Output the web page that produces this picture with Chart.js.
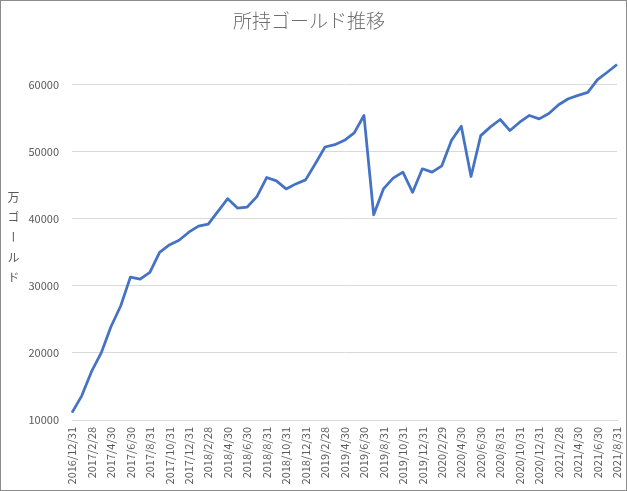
<!DOCTYPE html>
<html>
<head>
<meta charset="utf-8">
<script src="https://cdn.jsdelivr.net/npm/chart.js@4/dist/chart.umd.min.js"></script>
<style>
  html, body { margin: 0; padding: 0; background: #fff; }
  #wrap {
    position: relative;
    width: 627px; height: 491px;
    box-sizing: border-box;
    border: 1px solid #8c8c8c;
  }
  #chartGold { display: block; }
  #yTitle {
    position: absolute; left: 4px; top: 190px;
    writing-mode: vertical-rl;
    font: 12px "Noto Sans CJK JP", sans-serif;
    letter-spacing: 8px;
    color: #595959;
  }
</style>
</head>
<body>
<div id="wrap">
  <canvas id="chartGold" width="625" height="489"></canvas>
  <div id="yTitle">万ゴールド</div>
</div>
<script>
// month-end dates (every other one is labelled)
const dates = [
  "2016/12/31",
  "2017/1/31", "2017/2/28", "2017/3/31", "2017/4/30", "2017/5/31", "2017/6/30",
  "2017/7/31", "2017/8/31", "2017/9/30", "2017/10/31", "2017/11/30", "2017/12/31",
  "2018/1/31", "2018/2/28", "2018/3/31", "2018/4/30", "2018/5/31", "2018/6/30",
  "2018/7/31", "2018/8/31", "2018/9/30", "2018/10/31", "2018/11/30", "2018/12/31",
  "2019/1/31", "2019/2/28", "2019/3/31", "2019/4/30", "2019/5/31", "2019/6/30",
  "2019/7/31", "2019/8/31", "2019/9/30", "2019/10/31", "2019/11/30", "2019/12/31",
  "2020/1/31", "2020/2/29", "2020/3/31", "2020/4/30", "2020/5/31", "2020/6/30",
  "2020/7/31", "2020/8/31", "2020/9/30", "2020/10/31", "2020/11/30", "2020/12/31",
  "2021/1/31", "2021/2/28", "2021/3/31", "2021/4/30", "2021/5/31", "2021/6/30",
  "2021/7/31", "2021/8/31",
];

// gold held
const gold = [
  11100, 13600, 17200, 20000, 23900, 27000, 31300, 31000, 32000, 35000,
  36100, 36800, 38000, 38900, 39200, 41100, 43000, 41600, 41750, 43300,
  46150, 45650, 44450, 45200, 45800, 48200, 50700, 51050, 51700, 52800,
  55400, 40600, 44450, 46050, 46950, 43950, 47450, 46950, 47900, 51700,
  53800, 46300, 52400, 53700, 54800, 53150, 54400, 55400, 54900, 55700,
  57000, 57900, 58400, 58850, 60750, 61850, 63000,
];

// y axis tick values
const yTicks = [10000, 20000, 30000, 40000, 50000, 60000];
const yMin = 10000;
const yMax = 64000;

const textGrey = "#595959";
const gridGrey = "#d9d9d9";
const font = "'Noto Sans CJK JP', sans-serif";

new Chart(document.getElementById("chartGold"), {
  type: "line",
  data: {
    labels: dates,
    datasets: [{
      label: "所持ゴールド",
      data: gold,
      borderColor: "#4472C4",
      borderWidth: 2.75,
      borderJoinStyle: "round",
      pointRadius: 0,
      tension: 0,
      fill: false,
    }],
  },
  options: {
    responsive: false,
    animation: false,
    layout: { padding: { left: 0, right: 9, top: 0, bottom: 0 } },
    plugins: {
      legend: { display: false },
      tooltip: { enabled: false },
      title: {
        display: true,
        text: "所持ゴールド推移",
        color: "#6d6d6d",
        font: { family: font, size: 19, weight: "300" },
        padding: { top: 8, bottom: 26 },
      },
    },
    scales: {
      x: {
        offset: false,
        grid: { display: false, drawTicks: false },
        border: { display: true, color: gridGrey },
        afterFit: s => {
          s.height = 70;
          s.paddingLeft = 0;
          s.paddingRight = 0;
        },
        ticks: {
          autoSkip: false,
          maxRotation: 90,
          minRotation: 90,
          padding: 7,
          color: textGrey,
          font: { family: font, size: 11 },
          callback: (v, i) => (i % 2 === 0 ? dates[i] : ""),
        },
      },
      y: {
        min: yMin,
        max: yMax,
        afterBuildTicks: s => { s.ticks = yTicks.map(v => ({ value: v })); },
        afterFit: s => { s.width = 71; },
        grid: { color: gridGrey, drawTicks: false },
        border: { display: false },
        ticks: {
          padding: 13,
          color: textGrey,
          font: { family: font, size: 11 },
          callback: v => String(v),
        },
      },
    },
  },
});
</script>
</body>
</html>
